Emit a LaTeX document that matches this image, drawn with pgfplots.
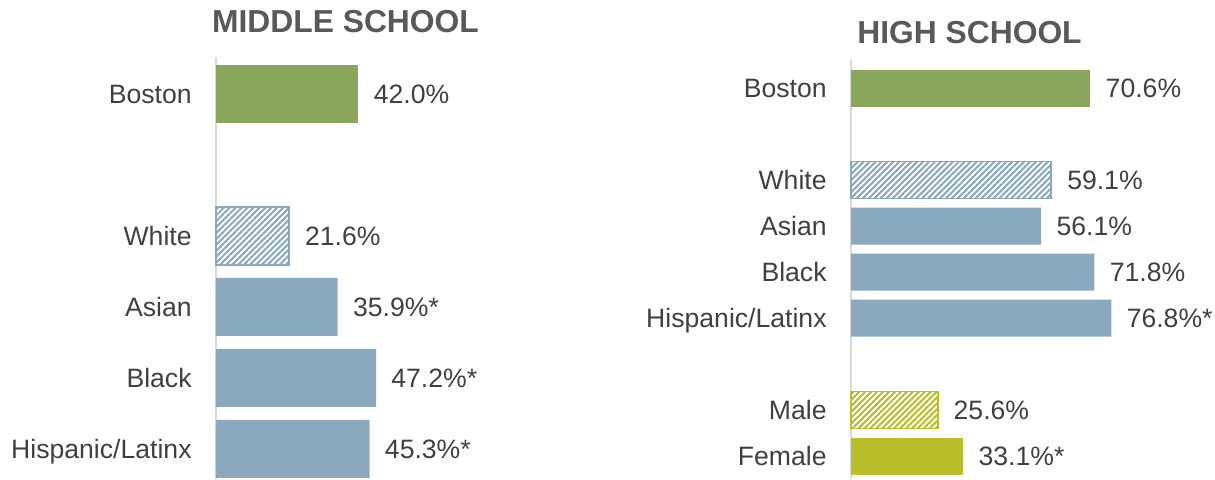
\documentclass[border=0pt]{standalone}
\usepackage{pgfplots}
\pgfplotsset{compat=1.18}
\usepackage{fontspec}
\setmainfont{Liberation Sans}
\usetikzlibrary{patterns.meta}
\definecolor{bgreen}{RGB}{138,166,92}
\definecolor{bblue}{RGB}{139,169,190}
\definecolor{byel}{RGB}{184,191,42}
\definecolor{txt}{RGB}{64,64,64}
\definecolor{ttl}{RGB}{89,89,89}
\definecolor{axgray}{RGB}{217,217,217}
\pgfplotsset{
 panel/.style={
  anchor=north west, clip=false,
  xbar, bar shift=0pt,
  x=1.695pt, xmin=0, xmax=100,
  y dir=reverse,
  axis x line=none, axis y line=left,
  y axis line style={-, draw=axgray, line width=1.2pt},
  major tick length=0pt,
  ytick style={draw=none},
  yticklabel style={font=\fontsize{13.3}{15}\selectfont, color=txt, inner sep=0pt, xshift=-12pt, text height=9.5pt, text depth=0pt, anchor=east},
  point meta=explicit symbolic,
  nodes near coords={\pgfplotspointmeta},
  every node near coord/.append style={font=\fontsize{13.3}{15}\selectfont, color=txt, inner sep=0pt, xshift=7.5pt, text height=9.5pt, text depth=0pt, anchor=west},
 },
 hatch/.style={draw=#1, line width=0.9pt, pattern={Lines[angle=45,distance=2.1pt,line width=1.05pt]}, pattern color=#1},
}
\begin{document}
\begin{tikzpicture}
\path[use as bounding box] (0,0) rectangle (607.5pt,239.5pt);
\node[font=\fontsize{15.9}{18}\selectfont\bfseries, color=ttl] at (172.75pt,228.5pt) {MIDDLE SCHOOL};
\node[font=\fontsize{15.9}{18}\selectfont\bfseries, color=ttl] at (484.75pt,223pt) {HIGH SCHOOL};
\begin{axis}[panel, at={(108pt,211pt)},
  y=35.5pt, ymin=-0.52, ymax=5.42, bar width=29pt,
  ytick={0,2,3,4,5}, yticklabels={Boston,White,Asian,Black,Hispanic/Latinx}]
\addplot[fill=bgreen, draw=none] coordinates {(42.0,0) [42.0\%]};
\addplot[hatch=bblue] coordinates {(21.6,2) [21.6\%]};
\addplot[fill=bblue, draw=none] coordinates {(35.9,3) [35.9\%*] (47.2,4) [47.2\%*] (45.3,5) [45.3\%*]};
\end{axis}
\begin{axis}[panel, at={(425.5pt,209.5pt)},
  y=23pt, ymin=-0.61, ymax=8.5, bar width=18.5pt,
  ytick={0,2,3,4,5,7,8}, yticklabels={Boston,White,Asian,Black,Hispanic/Latinx,Male,Female}]
\addplot[fill=bgreen, draw=none] coordinates {(70.6,0) [70.6\%]};
\addplot[hatch=bblue] coordinates {(59.1,2) [59.1\%]};
\addplot[fill=bblue, draw=none] coordinates {(56.1,3) [56.1\%] (71.8,4) [71.8\%] (76.8,5) [76.8\%*]};
\addplot[hatch=byel] coordinates {(25.6,7) [25.6\%]};
\addplot[fill=byel, draw=none] coordinates {(33.1,8) [33.1\%*]};
\end{axis}
\end{tikzpicture}
\end{document}
